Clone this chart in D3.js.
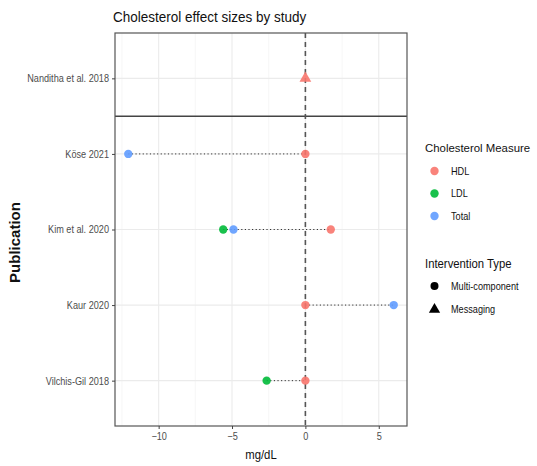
<!DOCTYPE html>
<html>
<head>
<meta charset="utf-8">
<script src="https://cdn.jsdelivr.net/npm/d3@7"></script>
<style>
  body { margin: 0; background: #fff; }
  text { font-family: "Liberation Sans", Arial, sans-serif; }
</style>
</head>
<body>
<svg id="chart" width="537" height="466"></svg>
<script>
// 研究（由上到下）
const studies = ['Nanditha et al. 2018', 'Köse 2021', 'Kim et al. 2020', 'Kaur 2020', 'Vilchis-Gil 2018'];
const measures = ['HDL', 'LDL', 'Total'];
const measureColors = ['#F8766D', '#00BA38', '#619CFF'];
const interventions = ['Multi-component', 'Messaging'];

// 每個點：研究、指標、效果值、介入類型
const pointStudy = ['Nanditha et al. 2018', 'Köse 2021', 'Köse 2021', 'Kim et al. 2020', 'Kim et al. 2020', 'Kim et al. 2020', 'Kaur 2020', 'Kaur 2020', 'Vilchis-Gil 2018', 'Vilchis-Gil 2018'];
const pointMeasure = ['HDL', 'HDL', 'Total', 'LDL', 'Total', 'HDL', 'HDL', 'Total', 'LDL', 'HDL'];
const pointValue = [0, 0, -12.07, -5.6, -4.9, 1.73, 0, 6.02, -2.64, 0];
const pointType = ['Messaging', 'Multi-component', 'Multi-component', 'Multi-component', 'Multi-component', 'Multi-component', 'Multi-component', 'Multi-component', 'Multi-component', 'Multi-component'];

const xTicks = [-10, -5, 0, 5];
const xMinor = [-12.5, -7.5, -2.5, 2.5];

const points = pointValue.map((v, i) => ({
  study: pointStudy[i], measure: pointMeasure[i], value: v, type: pointType[i]
}));

const svg = d3.select('#chart');
const panel = { left: 115, right: 407, top: 33, bottom: 426 };

const ext = d3.extent(pointValue);
const pad = (ext[1] - ext[0]) * 0.05;
const x = d3.scaleLinear().domain([ext[0] - pad, ext[1] + pad]).range([panel.left, panel.right]);

// 離散 y 軸，兩側各擴展 0.6 單位（ggplot 預設）
const step = (panel.bottom - panel.top) / (studies.length - 1 + 1.2);
const y = d3.scalePoint().domain(studies).range([panel.top + 0.6 * step, panel.bottom - 0.6 * step]);

const color = d3.scaleOrdinal().domain(measures).range(measureColors);

// 格線
const grid = svg.append('g');
grid.selectAll('.minor').data(xMinor).join('line')
  .attr('x1', d => x(d)).attr('x2', d => x(d))
  .attr('y1', panel.top).attr('y2', panel.bottom)
  .attr('stroke', '#f2f2f2').attr('stroke-width', 0.6);
grid.selectAll('.major').data(xTicks).join('line')
  .attr('x1', d => x(d)).attr('x2', d => x(d))
  .attr('y1', panel.top).attr('y2', panel.bottom)
  .attr('stroke', '#ebebeb').attr('stroke-width', 1.1);
grid.selectAll('.hmajor').data(studies).join('line')
  .attr('x1', panel.left).attr('x2', panel.right)
  .attr('y1', d => y(d)).attr('y2', d => y(d))
  .attr('stroke', '#ebebeb').attr('stroke-width', 1.1);

// 分隔線（Messaging 與 Multi-component 之間）
const sepY = (y(studies[0]) + y(studies[1])) / 2;
svg.append('line')
  .attr('x1', panel.left).attr('x2', panel.right)
  .attr('y1', sepY).attr('y2', sepY)
  .attr('stroke', '#444').attr('stroke-width', 1.5);

// 0 的虛線
svg.append('line')
  .attr('x1', x(0)).attr('x2', x(0))
  .attr('y1', panel.top).attr('y2', panel.bottom)
  .attr('stroke', '#555').attr('stroke-width', 1.6)
  .attr('stroke-dasharray', '5,4');

// 每個研究的點線段（最小值到最大值）
const ranges = d3.rollups(points, v => d3.extent(v, d => d.value), d => d.study);
svg.append('g').selectAll('line').data(ranges).join('line')
  .attr('x1', d => x(d[1][0])).attr('x2', d => x(d[1][1]))
  .attr('y1', d => y(d[0])).attr('y2', d => y(d[0]))
  .attr('stroke', '#333').attr('stroke-width', 1)
  .attr('stroke-dasharray', '1.2,2.4');

// 點
const sym = d3.scaleOrdinal().domain(interventions).range([d3.symbolCircle, d3.symbolTriangle]);
svg.append('g').selectAll('path').data(points).join('path')
  .attr('transform', d => `translate(${x(d.value)},${y(d.study)})`)
  .attr('d', d => d3.symbol().type(sym(d.type)).size(d.type === 'Messaging' ? 60 : 55)())
  .attr('fill', d => color(d.measure))
  .attr('opacity', 0.9);

// 面板邊框
svg.append('rect')
  .attr('x', panel.left).attr('y', panel.top)
  .attr('width', panel.right - panel.left).attr('height', panel.bottom - panel.top)
  .attr('fill', 'none').attr('stroke', '#555').attr('stroke-width', 1.2);

// 座標軸
const xAxis = svg.append('g').attr('transform', `translate(0,${panel.bottom})`)
  .call(d3.axisBottom(x).tickValues(xTicks).tickSize(3).tickPadding(4).tickFormat(d3.format('d')));
const yAxis = svg.append('g').attr('transform', `translate(${panel.left},0)`)
  .call(d3.axisLeft(y).tickSize(3).tickPadding(3));
[xAxis, yAxis].forEach(a => {
  a.select('.domain').remove();
  a.selectAll('.tick line').attr('stroke', '#444');
  a.selectAll('.tick text').attr('fill', '#4d4d4d').style('font-size', '10.5px')
    .style('font-family', '"Liberation Sans", Arial, sans-serif');
});

// 標題
svg.append('text').attr('x', panel.left - 2).attr('y', 22)
  .style('font-size', '15.5px').attr('fill', '#111')
  .text('Cholesterol effect sizes by study');
svg.append('text').attr('x', (panel.left + panel.right) / 2).attr('y', 459)
  .attr('text-anchor', 'middle').style('font-size', '13px').attr('fill', '#111')
  .text('mg/dL');

// 圖例
const lg = svg.append('g').attr('transform', 'translate(425,0)');
lg.append('text').attr('x', 0).attr('y', 152).style('font-size', '13px').attr('fill', '#111')
  .text('Intervention Type').attr('y', 268);
measures.forEach((m, i) => {
  const cy = 171 + i * 22.5;
  lg.append('circle').attr('cx', 9.5).attr('cy', cy).attr('r', 4.2).attr('fill', color(m)).attr('opacity', 0.9);
  lg.append('text').attr('x', 26).attr('y', cy + 3.8).style('font-size', '10.5px').attr('fill', '#111').text(m);
});
interventions.forEach((t, i) => {
  const cy = 286 + i * 23.5;
  lg.append('path').attr('transform', `translate(9.5,${cy})`)
    .attr('d', d3.symbol().type(sym(t)).size(t === 'Messaging' ? 55 : 50)())
    .attr('fill', '#000');
  lg.append('text').attr('x', 26).attr('y', cy + 3.8).style('font-size', '10.5px').attr('fill', '#111').text(t);
});

// 參考圖的字形較窄：把文字水平壓縮約 12%
svg.selectAll('text').each(function () {
  const w = this.getComputedTextLength();
  d3.select(this).attr('textLength', w * 0.87).attr('lengthAdjust', 'spacingAndGlyphs');
});

// 這兩個標題另外處理（貼近右緣的圖例標題直接用較小字級）
lg.append('text').attr('x', 0).attr('y', 152).style('font-size', '11.4px').attr('fill', '#111')
  .text('Cholesterol Measure');
svg.append('text')
  .attr('transform', `translate(20,${(panel.top + panel.bottom) / 2 + 13}) rotate(-90)`)
  .attr('text-anchor', 'middle').style('font-size', '15px').style('font-weight', 'bold')
  .attr('fill', '#111')
  .text('Publication');
</script>
</body>
</html>
